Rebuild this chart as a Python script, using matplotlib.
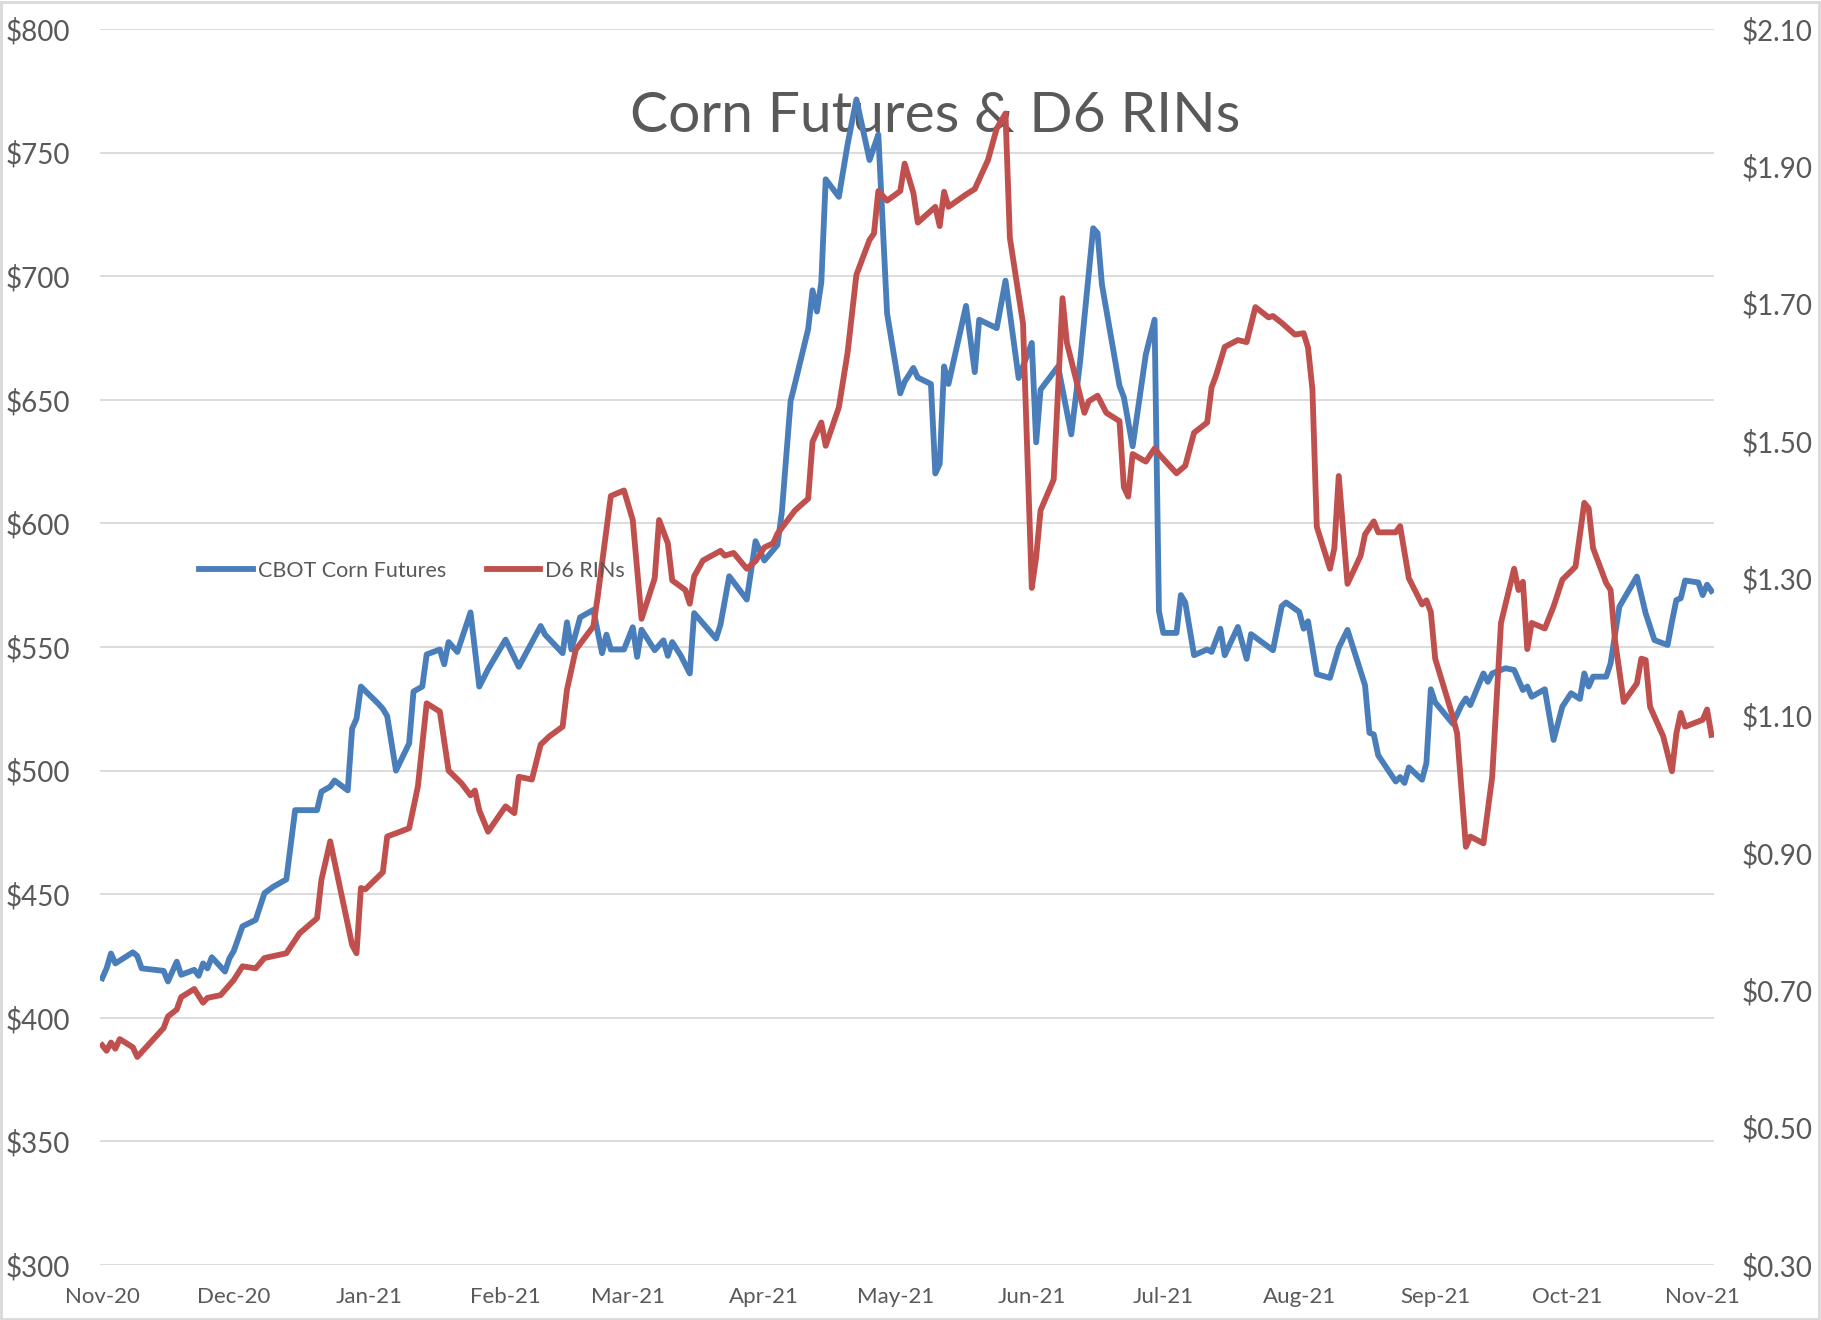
import matplotlib
matplotlib.use('Agg')
import matplotlib.pyplot as plt
import matplotlib.dates as mdates
from matplotlib.patches import Rectangle
import pandas as pd

plt.rcParams['font.family'] = ['Lato', 'DejaVu Sans']

# CBOT corn futures, cents/bu (left axis)
corn_dates = [
    '2020-11-01', '2020-11-02', '2020-11-03', '2020-11-04', '2020-11-08', '2020-11-09', '2020-11-10',
    '2020-11-15', '2020-11-16', '2020-11-18', '2020-11-19', '2020-11-22', '2020-11-23', '2020-11-24',
    '2020-11-25', '2020-11-26', '2020-11-29', '2020-11-30', '2020-12-01', '2020-12-03', '2020-12-06',
    '2020-12-08', '2020-12-10', '2020-12-13', '2020-12-15', '2020-12-20', '2020-12-21', '2020-12-23',
    '2020-12-24', '2020-12-27', '2020-12-28', '2020-12-29', '2020-12-30', '2021-01-03', '2021-01-04',
    '2021-01-05', '2021-01-07', '2021-01-10', '2021-01-11', '2021-01-13', '2021-01-14', '2021-01-17',
    '2021-01-18', '2021-01-19', '2021-01-21', '2021-01-24', '2021-01-26', '2021-01-28', '2021-02-01',
    '2021-02-04', '2021-02-09', '2021-02-10', '2021-02-14', '2021-02-15', '2021-02-16', '2021-02-18',
    '2021-02-21', '2021-02-23', '2021-02-24', '2021-02-25', '2021-02-28', '2021-03-02', '2021-03-03',
    '2021-03-04', '2021-03-07', '2021-03-09', '2021-03-10', '2021-03-11', '2021-03-13', '2021-03-15',
    '2021-03-16', '2021-03-21', '2021-03-22', '2021-03-24', '2021-03-28', '2021-03-30', '2021-04-01',
    '2021-04-04', '2021-04-05', '2021-04-07', '2021-04-08', '2021-04-11', '2021-04-12', '2021-04-13',
    '2021-04-14', '2021-04-15', '2021-04-18', '2021-04-20', '2021-04-22', '2021-04-25', '2021-04-27',
    '2021-04-29', '2021-05-02', '2021-05-03', '2021-05-05', '2021-05-06', '2021-05-09', '2021-05-10',
    '2021-05-11', '2021-05-12', '2021-05-13', '2021-05-17', '2021-05-19', '2021-05-20', '2021-05-24',
    '2021-05-26', '2021-05-29', '2021-06-01', '2021-06-02', '2021-06-03', '2021-06-07', '2021-06-10',
    '2021-06-12', '2021-06-15', '2021-06-16', '2021-06-17', '2021-06-21', '2021-06-22', '2021-06-24',
    '2021-06-27', '2021-06-29', '2021-06-30', '2021-07-01', '2021-07-04', '2021-07-05', '2021-07-06',
    '2021-07-08', '2021-07-11', '2021-07-12', '2021-07-14', '2021-07-15', '2021-07-18', '2021-07-20',
    '2021-07-21', '2021-07-26', '2021-07-28', '2021-07-29', '2021-08-01', '2021-08-02', '2021-08-03',
    '2021-08-05', '2021-08-08', '2021-08-10', '2021-08-12', '2021-08-16', '2021-08-17', '2021-08-18',
    '2021-08-19', '2021-08-23', '2021-08-24', '2021-08-25', '2021-08-26', '2021-08-29', '2021-08-30',
    '2021-08-31', '2021-09-01', '2021-09-05', '2021-09-07', '2021-09-08', '2021-09-09', '2021-09-12',
    '2021-09-13', '2021-09-14', '2021-09-17', '2021-09-19', '2021-09-21', '2021-09-22', '2021-09-23',
    '2021-09-26', '2021-09-28', '2021-09-30', '2021-10-02', '2021-10-04', '2021-10-05', '2021-10-06',
    '2021-10-07', '2021-10-10', '2021-10-11', '2021-10-13', '2021-10-17', '2021-10-19', '2021-10-21',
    '2021-10-24', '2021-10-25', '2021-10-26', '2021-10-27', '2021-10-28', '2021-10-31', '2021-11-01',
    '2021-11-02', '2021-11-03',
]
corn_price = [
    416, 420, 426, 422, 426.5, 425, 420,
    419, 414.7, 422.7, 417.4, 419.4, 417, 422,
    420, 424.5, 418.7, 424, 427, 437, 439.6,
    450.4, 453, 456, 484, 484, 491.5, 493.5,
    496, 492, 517, 521, 534, 527, 525,
    522, 500, 511, 532, 534, 547, 549,
    543, 552, 548, 564, 534, 541, 553,
    542, 558.5, 555, 547.5, 560, 549, 562,
    565, 547.5, 555, 549, 549, 558, 546,
    557, 548.7, 552.7, 546.4, 552, 546.4, 539.3,
    563.7, 553.4, 559, 578.6, 569.2, 592.8, 585,
    591.3, 604.6, 649.5, 656.6, 678.6, 694.3, 685.7,
    697.5, 739.2, 732.1, 753.4, 771.5, 747, 757.3,
    684.9, 652.6, 657.3, 662.9, 659, 656.4, 620.2,
    624.1, 663.5, 656.4, 688, 661.2, 682.4, 679,
    698.2, 658.8, 673, 632.8, 654.1, 663.5, 636,
    665.1, 719.4, 717.4, 696.6, 655.7, 651, 631.2,
    668.3, 682.4, 564.5, 555.7, 555.7, 571, 568,
    546.7, 549, 548, 557.4, 546.7, 558.1, 545.2,
    555.2, 548.7, 566.5, 568, 564.2, 557.4, 560.4,
    539, 537.5, 549.7, 556.9, 534.5, 515.3, 514.6,
    506.2, 495.6, 497.4, 495, 501.3, 496.3, 503.1,
    532.9, 527.6, 519, 526.5, 529.2, 526.5, 539.3,
    535.9, 539.3, 541.4, 540.7, 532.6, 534, 529.9,
    532.9, 512.4, 525.9, 531.3, 529, 539.3, 534,
    538, 538, 543.4, 566.3, 578.5, 563.6, 552.8,
    550.8, 560.3, 569, 569.7, 576.9, 576.1, 571,
    575.2, 572.7,
]

# D6 RIN price, $/RIN (right axis)
rin_dates = [
    '2020-11-01', '2020-11-02', '2020-11-03', '2020-11-04', '2020-11-05', '2020-11-08', '2020-11-09',
    '2020-11-11', '2020-11-15', '2020-11-16', '2020-11-18', '2020-11-19', '2020-11-22', '2020-11-24',
    '2020-11-25', '2020-11-28', '2020-12-01', '2020-12-03', '2020-12-06', '2020-12-08', '2020-12-13',
    '2020-12-16', '2020-12-20', '2020-12-21', '2020-12-23', '2020-12-28', '2020-12-29', '2020-12-30',
    '2020-12-31', '2021-01-04', '2021-01-05', '2021-01-10', '2021-01-12', '2021-01-14', '2021-01-17',
    '2021-01-19', '2021-01-22', '2021-01-24', '2021-01-25', '2021-01-26', '2021-01-28', '2021-02-01',
    '2021-02-03', '2021-02-04', '2021-02-07', '2021-02-09', '2021-02-11', '2021-02-14', '2021-02-15',
    '2021-02-17', '2021-02-21', '2021-02-22', '2021-02-25', '2021-02-28', '2021-03-02', '2021-03-04',
    '2021-03-07', '2021-03-08', '2021-03-10', '2021-03-11', '2021-03-14', '2021-03-15', '2021-03-16',
    '2021-03-18', '2021-03-22', '2021-03-23', '2021-03-25', '2021-03-28', '2021-03-30', '2021-04-01',
    '2021-04-03', '2021-04-04', '2021-04-06', '2021-04-08', '2021-04-11', '2021-04-12', '2021-04-14',
    '2021-04-15', '2021-04-18', '2021-04-20', '2021-04-22', '2021-04-25', '2021-04-26', '2021-04-27',
    '2021-04-29', '2021-05-02', '2021-05-03', '2021-05-05', '2021-05-06', '2021-05-10', '2021-05-11',
    '2021-05-12', '2021-05-13', '2021-05-17', '2021-05-19', '2021-05-22', '2021-05-24', '2021-05-25',
    '2021-05-26', '2021-05-27', '2021-05-30', '2021-06-01', '2021-06-02', '2021-06-03', '2021-06-06',
    '2021-06-08', '2021-06-09', '2021-06-13', '2021-06-14', '2021-06-16', '2021-06-18', '2021-06-21',
    '2021-06-22', '2021-06-23', '2021-06-24', '2021-06-27', '2021-06-29', '2021-06-30', '2021-07-04',
    '2021-07-06', '2021-07-08', '2021-07-11', '2021-07-12', '2021-07-13', '2021-07-15', '2021-07-18',
    '2021-07-20', '2021-07-22', '2021-07-25', '2021-07-26', '2021-07-28', '2021-07-31', '2021-08-02',
    '2021-08-03', '2021-08-04', '2021-08-05', '2021-08-08', '2021-08-09', '2021-08-10', '2021-08-12',
    '2021-08-15', '2021-08-16', '2021-08-18', '2021-08-19', '2021-08-23', '2021-08-24', '2021-08-26',
    '2021-08-29', '2021-08-30', '2021-08-31', '2021-09-01', '2021-09-05', '2021-09-06', '2021-09-08',
    '2021-09-09', '2021-09-12', '2021-09-14', '2021-09-16', '2021-09-19', '2021-09-20', '2021-09-21',
    '2021-09-22', '2021-09-23', '2021-09-26', '2021-09-28', '2021-09-30', '2021-10-03', '2021-10-05',
    '2021-10-06', '2021-10-07', '2021-10-10', '2021-10-11', '2021-10-12', '2021-10-14', '2021-10-17',
    '2021-10-18', '2021-10-19', '2021-10-20', '2021-10-23', '2021-10-25', '2021-10-26', '2021-10-27',
    '2021-10-28', '2021-11-01', '2021-11-02', '2021-11-03',
]
rin_price = [
    0.620, 0.612, 0.624, 0.615, 0.629, 0.617, 0.603,
    0.617, 0.645, 0.662, 0.672, 0.690, 0.702, 0.682,
    0.689, 0.693, 0.715, 0.735, 0.732, 0.747, 0.754,
    0.783, 0.805, 0.861, 0.917, 0.766, 0.754, 0.849,
    0.847, 0.872, 0.924, 0.936, 0.997, 1.118, 1.106,
    1.020, 1.001, 0.984, 0.991, 0.962, 0.931, 0.968,
    0.958, 1.011, 1.007, 1.058, 1.070, 1.084, 1.138,
    1.196, 1.230, 1.273, 1.420, 1.428, 1.385, 1.241,
    1.300, 1.385, 1.351, 1.297, 1.283, 1.263, 1.303,
    1.326, 1.340, 1.333, 1.337, 1.314, 1.325, 1.345,
    1.351, 1.365, 1.382, 1.399, 1.416, 1.499, 1.527,
    1.493, 1.549, 1.629, 1.742, 1.793, 1.802, 1.864,
    1.850, 1.864, 1.904, 1.861, 1.818, 1.841, 1.813,
    1.863, 1.841, 1.859, 1.867, 1.909, 1.955, 1.966,
    1.977, 1.796, 1.671, 1.286, 1.331, 1.399, 1.444,
    1.708, 1.643, 1.541, 1.558, 1.566, 1.541, 1.529,
    1.433, 1.419, 1.481, 1.470, 1.489, 1.481, 1.453,
    1.464, 1.512, 1.527, 1.578, 1.595, 1.637, 1.647,
    1.644, 1.695, 1.680, 1.682, 1.672, 1.655, 1.657,
    1.636, 1.575, 1.375, 1.314, 1.344, 1.449, 1.292,
    1.333, 1.364, 1.383, 1.367, 1.367, 1.376, 1.300,
    1.262, 1.268, 1.251, 1.183, 1.099, 1.074, 0.909,
    0.924, 0.914, 1.011, 1.235, 1.314, 1.283, 1.295,
    1.197, 1.235, 1.227, 1.259, 1.298, 1.317, 1.410,
    1.402, 1.344, 1.293, 1.283, 1.210, 1.120, 1.147,
    1.183, 1.181, 1.113, 1.070, 1.019, 1.074, 1.104,
    1.084, 1.094, 1.109, 1.072,
]

left_ticks = list(range(300, 801, 50))
right_ticks = [0.30, 0.50, 0.70, 0.90, 1.10, 1.30, 1.50, 1.70, 1.90, 2.10]

text_gray = '#595959'
grid_gray = '#d9d9d9'
blue = '#4a7ebb'
red = '#c0504d'

W, H = 1821, 1320
fig = plt.figure(figsize=(W / 100, H / 100), dpi=100)
ax = fig.add_axes([100 / W, 1 - 1265 / H, (1714 - 100) / W, (1265 - 29) / H])
ax2 = ax.twinx()

l1, = ax.plot(pd.to_datetime(corn_dates), corn_price, color=blue, lw=4.2,
              solid_joinstyle='round', label='CBOT Corn Futures', zorder=3)
l2, = ax2.plot(pd.to_datetime(rin_dates), rin_price, color=red, lw=4.2,
               solid_joinstyle='round', label='D6 RINs', zorder=3)

ax.set_xlim(pd.Timestamp('2020-10-31 12:00'), pd.Timestamp('2021-11-03 14:00'))
ax.set_ylim(300, 800)
ax2.set_ylim(0.30, 2.10)
ax.set_yticks(left_ticks)
ax2.set_yticks(right_ticks)
ax.set_yticklabels(['${}'.format(v) for v in left_ticks])
ax2.set_yticklabels(['${:.2f}'.format(v) for v in right_ticks])

ax.xaxis.set_major_locator(mdates.MonthLocator())
ax.xaxis.set_major_formatter(mdates.DateFormatter('%b-%y'))

ax.grid(axis='y', color=grid_gray, lw=1.3, zorder=0)
ax.set_axisbelow(True)
for a in (ax, ax2):
    for s in a.spines.values():
        s.set_visible(False)
    a.tick_params(length=0, colors=text_gray)
ax.tick_params(axis='y', labelsize=20, pad=21.5)
ax2.tick_params(axis='y', labelsize=20, pad=20)
ax.tick_params(axis='x', labelsize=16, pad=16)

ax.text(935 / W, 1 - 116 / H, 'Corn Futures & D6 RINs', transform=fig.transFigure,
        ha='center', va='center', fontsize=41, color=text_gray, zorder=1)

ax2.legend([l1, l2], ['CBOT Corn Futures', 'D6 RINs'], loc='center left',
           bbox_to_anchor=(180 / W, 1 - 571 / H), bbox_transform=fig.transFigure,
           ncol=2, frameon=False, fontsize=15.5, handlelength=2.5,
           handletextpad=0.2, columnspacing=1.9, labelcolor=text_gray)

fig.patches.append(Rectangle((1 / W, 1 / H), 1 - 3 / W, 1 - 3 / H, transform=fig.transFigure,
                             fill=False, edgecolor=grid_gray, lw=2))

fig.savefig('out.png', dpi=100)
